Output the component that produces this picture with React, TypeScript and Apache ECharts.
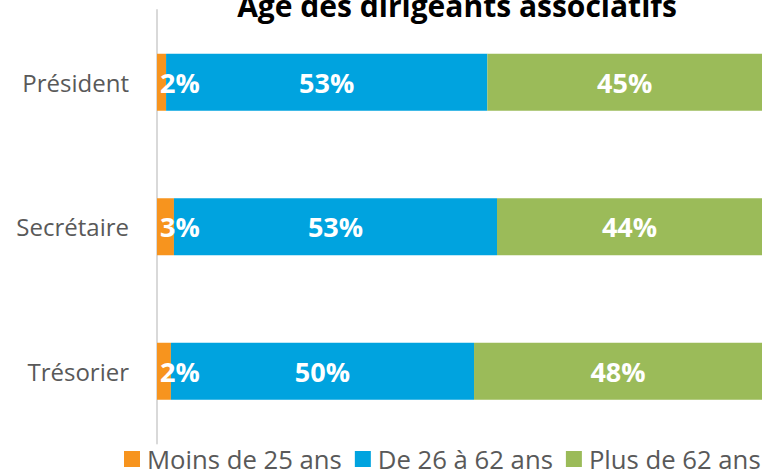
import React, { useEffect, useRef } from "react";
import * as echarts from "echarts";

const categories = ["Président", "Secrétaire", "Trésorier"];
const seriesNames = ["Moins de 25 ans", "De 26 à 62 ans", "Plus de 62 ans"];
const moins25 = [1.5, 2.8, 2.3];
const de26a62 = [53.1, 53.4, 50.1];
const plus62 = [45.4, 43.8, 47.6];
const colors = ["#F7941E", "#00A3DF", "#9BBB59"];
const title = "Age des dirigeants associatifs";

const FONT = "'Open Sans', 'Noto Sans', sans-serif";

export default function App() {
  const ref = useRef<HTMLDivElement>(null);
  useEffect(() => {
    if (!ref.current) return;
    const chart = echarts.init(ref.current, undefined, { renderer: "svg" });
    const valueLabel = {
      show: true,
      color: "#ffffff",
      fontFamily: FONT,
      fontWeight: "bold" as const,
      fontSize: 27,
      formatter: (p: any) => Math.round(p.value) + "%",
    };
    const data = [moins25, de26a62, plus62];
    chart.setOption({
      animation: false,
      textStyle: { fontFamily: FONT },
      grid: { left: 157, right: 3, top: 10, bottom: 26.5, containLabel: false },
      graphic: [
        {
          type: "text",
          x: 457,
          y: 5,
          style: {
            text: title,
            fontFamily: FONT,
            fontWeight: "bold",
            fontSize: 30,
            fill: "#000000",
            align: "center",
            verticalAlign: "middle",
          },
        },
      ],
      legend: {
        left: 124,
        top: 446,
        padding: 0,
        itemWidth: 16,
        itemHeight: 16,
        itemGap: 13,
        icon: "rect",
        textStyle: { fontFamily: FONT, fontSize: 25.7, color: "#595959", padding: [0, 0, 0, 2] },
        data: seriesNames,
      },
      xAxis: { type: "value", min: 0, max: 100, show: false },
      yAxis: {
        type: "category",
        data: categories,
        inverse: true,
        axisLine: { show: true, lineStyle: { color: "#D9D9D9", width: 2 } },
        axisTick: { show: false },
        axisLabel: { fontFamily: FONT, fontSize: 24, color: "#595959", margin: 28 },
      },
      series: seriesNames.map((name, i) => ({
        name,
        type: "bar",
        stack: "total",
        barWidth: 57,
        itemStyle: { color: colors[i] },
        label:
          i === 0
            ? { ...valueLabel, position: "insideLeft", distance: 3 }
            : { ...valueLabel, position: "inside" },
        data: data[i],
      })),
    });
    return () => chart.dispose();
  }, []);
  return (
    <div
      ref={ref}
      style={{ position: "absolute", left: 0, top: 0, width: 765, height: 470 }}
    />
  );
}
